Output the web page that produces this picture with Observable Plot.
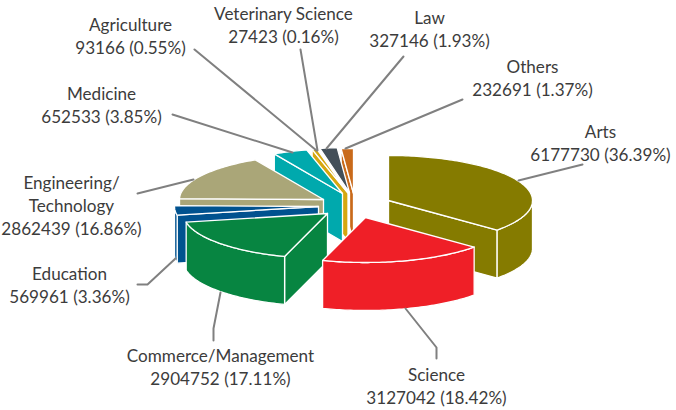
<!DOCTYPE html>
<html>
<head>
<meta charset="utf-8">
<script src="https://cdn.jsdelivr.net/npm/d3@7"></script>
<script src="https://cdn.jsdelivr.net/npm/@observablehq/plot@0.6"></script>
<style>html,body{margin:0;padding:0;background:#fff}svg{display:block}</style>
</head>
<body>
<div id="chart"></div>
<script>
// ---- data (in slice order, clockwise from 12 o'clock) ----
const categories = ["Arts","Science","Commerce/Management","Education","Engineering/\nTechnology","Medicine","Agriculture","Veterinary Science","Law","Others"];
const values = [6177730,3127042,2904752,569961,2862439,652533,93166,27423,327146,232691];
const percents = ["36.39","18.42","17.11","3.36","16.86","3.85","0.55","0.16","1.93","1.37"];
const colors = ["#857b00","#ef1f27","#078541","#00528f","#aaa678","#00a9ad","#d5a70f","#9a9a9a","#434f59","#c96a1a"];

// ---- layout ----
const W = 676, H = 410, RX = 144, RY = 45, DEPTH = 48;
// exploded apex of each slice, in chart units
const apexX = [388,365,327,318,323,342,347.5,348,349,353];
const apexY = [200,217,213,206,199,193,192.5,192,192,193];
const labelX = [600,436,220,69,71,101,130,283,429,532];
const labelBase = [137,380,361,279,188,99,30,19,23,72];
const leaders = [
  [[518,180],[582,164]],
  [[405,308],[436,347],[436,358]],
  [[220,292],[213,328],[213,340]],
  [[175,258],[147,284],[137,284]],
  [[193,179],[137,193]],
  [[292,152],[172,114]],
  [[316,150],[194,49]],
  [[317,150],[300,49]],
  [[326,148],[403,56]],
  [[345,148],[462,99]]
];
const paintOrder = [9,8,7,6,5,4,3,2,0,1];
const FS = 17.1, LH = 1.37;

const total = d3.sum(values);
let cum = 0;
const slices = values.map((v, i) => {
  const a0 = cum / total * 2 * Math.PI;
  cum += v;
  return {i, a0, a1: cum / total * 2 * Math.PI, ax: apexX[i], ay: apexY[i], color: colors[i]};
});
const rim = (s, a, dz = 0) => ({x: s.ax + RX * Math.sin(a), y: s.ay - RY * Math.cos(a) + dz});
const arc = (s, a0, a1, dz = 0) => {
  const n = Math.max(2, Math.ceil((a1 - a0) / 0.02));
  return d3.range(n + 1).map(k => rim(s, a0 + (a1 - a0) * k / n, dz));
};
const closed = pts => [...pts, pts[0]];
const face = (pts, color) => Plot.line(closed(pts), {x: "x", y: "y", fill: color, stroke: "#fff", strokeWidth: 1.3, curve: "linear", strokeLinejoin: "round"});

const marks = [];
for (const idx of paintOrder) {
  const s = slices[idx];
  const apex = {x: s.ax, y: s.ay};
  const low = {x: s.ax, y: s.ay + DEPTH};
  // flat cut faces that turn towards the viewer
  if (-Math.sin(s.a0) > 0.01) marks.push(face([apex, rim(s, s.a0), rim(s, s.a0, DEPTH), low], s.color));
  if (Math.sin(s.a1) > 0.01 && s.a1 < Math.PI) marks.push(face([apex, rim(s, s.a1), rim(s, s.a1, DEPTH), low], s.color));
  // curved outer wall on the front half
  const f0 = Math.max(s.a0, Math.PI / 2), f1 = Math.min(s.a1, 3 * Math.PI / 2);
  if (f1 > f0) marks.push(face([...arc(s, f0, f1), ...arc(s, f0, f1, DEPTH).reverse()], s.color));
  // top
  marks.push(face([apex, ...arc(s, s.a0, s.a1)], s.color));
}

leaders.forEach(pts => marks.push(Plot.line(pts.map(([x, y]) => ({x, y})), {x: "x", y: "y", stroke: "#808080", strokeWidth: 2, curve: "linear"})));

const labels = categories.map((c, i) => ({
  text: `${c}\n${values[i]} (${percents[i]}%)`,
  x: labelX[i],
  y: labelBase[i] - 0.71 * LH * FS
}));
marks.push(Plot.text(labels, {
  x: "x", y: "y", text: "text", textAnchor: "middle", lineAnchor: "top",
  lineHeight: LH, fontSize: FS, fontFamily: "Lato", fill: "#3c3c3c"
}));

const chart = Plot.plot({
  width: W, height: H,
  margin: 0,
  x: {domain: [0, W], range: [0, W], axis: null},
  y: {domain: [0, H], range: [0, H], axis: null},
  marks
});
document.getElementById("chart").appendChild(chart);
</script>
</body>
</html>
